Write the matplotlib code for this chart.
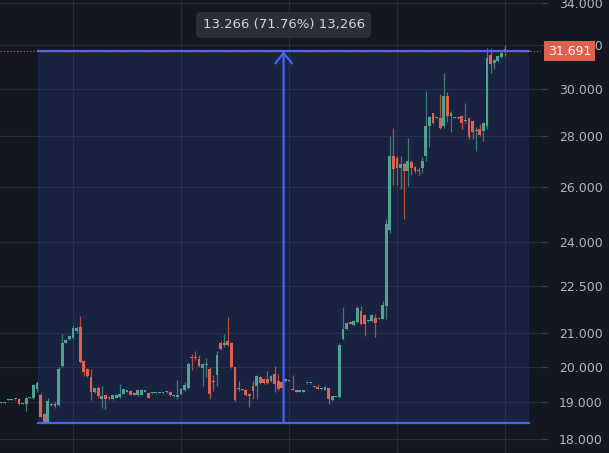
"""
Price chart with a measure box (dark theme, log price scale)
"""
import numpy as np
import matplotlib.pyplot as plt

# ==============================
# Data
# ==============================
opens = [18.96, 18.96, 19.05, 19.06, 19.07, 19.08, 18.94, 18.93, 19.11, 19.10,
         19.37, 19.20, 18.66, 18.46, 18.95, 18.90, 18.92, 20.03, 20.72, 20.83,
         20.85, 21.08, 21.18, 20.17, 19.93, 19.71, 19.28, 19.40, 19.09, 19.18,
         19.15, 19.08, 19.12, 19.14, 19.23, 19.29, 19.30, 19.25, 19.18, 19.20,
         19.29, 19.26, 19.24, 19.24, 19.25, 19.24, 19.27, 19.29, 19.16, 19.15,
         19.22, 19.33, 19.38, 20.29, 20.30, 20.22, 19.97, 20.05, 19.93, 19.60,
         19.75, 20.72, 20.65, 20.78, 20.72, 19.99, 19.38, 19.33, 19.34, 19.22,
         19.45, 19.45, 19.70, 19.65, 19.66, 19.58, 19.79, 19.58, 19.57, 19.58,
         19.59, 19.34, 19.29, 19.29, 19.29, 19.52, 19.52, 19.41, 19.42, 19.35,
         19.33, 19.38, 19.05, 19.14, 19.14, 20.84, 21.13, 21.33, 21.25, 21.35,
         21.70, 21.58, 21.37, 21.38, 21.49, 21.44, 21.45, 21.86, 24.41, 27.21,
         27.13, 26.74, 26.89, 26.62, 26.95, 26.75, 26.63, 26.72, 27.20, 28.43,
         28.94, 28.73, 28.75, 28.40, 29.68, 28.84, 28.76, 28.74, 28.84, 28.61,
         28.73, 28.63, 28.21, 28.30, 28.22, 28.43, 31.50, 31.15, 31.25, 31.42,
         31.80]
highs = [18.98, 18.98, 19.07, 19.07, 19.09, 19.10, 18.96, 19.13, 19.14, 19.50,
         19.60, 19.25, 18.70, 19.10, 18.97, 19.02, 20.00, 20.98, 20.82, 20.95,
         21.27, 21.22, 21.55, 20.20, 19.95, 19.94, 19.40, 19.45, 19.45, 19.20,
         19.17, 19.19, 19.22, 19.50, 19.37, 19.31, 19.32, 19.27, 19.34, 19.35,
         19.31, 19.28, 19.26, 19.26, 19.27, 19.26, 19.30, 19.30, 19.18, 19.62,
         19.38, 19.55, 20.13, 20.37, 20.48, 20.35, 20.10, 20.25, 19.98, 19.75,
         20.48, 20.76, 20.98, 21.51, 20.75, 20.00, 19.60, 19.36, 19.36, 19.24,
         19.58, 19.76, 19.72, 19.67, 19.88, 19.76, 20.03, 19.80, 19.60, 19.67,
         19.62, 19.75, 19.31, 19.31, 19.31, 19.54, 19.54, 19.43, 19.50, 19.37,
         19.44, 19.40, 19.17, 19.16, 20.70, 21.83, 21.36, 21.38, 21.40, 21.84,
         21.85, 21.60, 21.39, 21.60, 21.60, 21.46, 22.02, 24.80, 28.01, 28.35,
         27.20, 27.21, 26.95, 27.93, 27.05, 26.80, 26.75, 27.15, 29.92, 28.85,
         28.98, 28.76, 29.79, 30.71, 29.85, 29.05, 28.80, 28.78, 28.86, 29.40,
         28.78, 28.66, 28.37, 28.50, 28.60, 31.84, 31.84, 31.35, 31.48, 31.66,
         31.98]
lows = [18.95, 18.95, 19.04, 19.05, 19.06, 18.92, 18.93, 18.75, 19.10, 19.08,
        19.28, 18.58, 18.425, 18.44, 18.90, 18.82, 18.90, 20.00, 20.70, 20.80,
        20.82, 21.00, 20.12, 19.72, 19.70, 19.04, 19.26, 19.12, 18.84, 18.80,
        19.05, 19.06, 19.10, 19.10, 19.22, 19.28, 19.18, 19.18, 19.16, 19.18,
        19.28, 19.10, 19.23, 19.23, 19.24, 19.23, 19.26, 19.17, 19.15, 19.08,
        19.20, 19.30, 19.36, 19.90, 20.20, 20.00, 19.45, 19.70, 19.09, 19.30,
        19.45, 20.50, 20.60, 20.62, 19.97, 19.03, 19.30, 19.32, 19.16, 18.86,
        19.08, 19.08, 19.50, 19.50, 19.50, 19.56, 19.28, 19.30, 19.38, 19.56,
        19.58, 19.32, 19.28, 19.28, 19.28, 19.51, 19.51, 19.40, 19.35, 19.34,
        19.32, 18.95, 19.03, 19.13, 19.10, 20.80, 21.10, 21.28, 21.22, 21.33,
        21.25, 20.92, 21.36, 21.36, 20.90, 21.43, 21.43, 21.45, 24.30, 26.09,
        26.09, 25.93, 24.80, 26.04, 26.45, 26.55, 26.45, 26.55, 27.00, 27.54,
        28.50, 28.72, 28.30, 28.35, 28.58, 28.15, 28.74, 28.72, 28.30, 28.55,
        27.90, 27.90, 27.38, 28.00, 27.79, 28.30, 30.70, 30.89, 31.20, 31.38,
        31.45]
closes = [18.97, 18.97, 19.06, 19.06, 19.08, 18.93, 18.95, 19.12, 19.13, 19.47,
          19.52, 18.60, 18.46, 19.03, 18.92, 18.92, 19.94, 20.72, 20.80, 20.92,
          21.17, 21.15, 20.15, 19.86, 19.73, 19.29, 19.38, 19.17, 19.17, 19.08,
          19.10, 19.18, 19.20, 19.23, 19.35, 19.30, 19.20, 19.20, 19.32, 19.33,
          19.30, 19.12, 19.25, 19.25, 19.26, 19.25, 19.28, 19.18, 19.17, 19.20,
          19.35, 19.48, 20.09, 20.26, 20.25, 20.02, 20.07, 20.08, 19.21, 19.57,
          20.34, 20.54, 20.70, 20.66, 19.99, 19.05, 19.36, 19.34, 19.18, 19.16,
          19.30, 19.73, 19.52, 19.52, 19.52, 19.74, 19.51, 19.36, 19.40, 19.65,
          19.60, 19.33, 19.30, 19.30, 19.30, 19.53, 19.53, 19.42, 19.36, 19.36,
          19.42, 19.08, 19.16, 19.15, 20.64, 21.13, 21.33, 21.30, 21.38, 21.80,
          21.29, 21.30, 21.38, 21.58, 21.33, 21.45, 21.89, 24.64, 27.21, 26.70,
          26.74, 26.89, 26.62, 27.01, 26.72, 26.60, 26.61, 26.99, 28.43, 28.80,
          28.55, 28.74, 28.35, 29.70, 28.84, 28.98, 28.77, 28.75, 28.56, 28.62,
          27.95, 28.15, 28.22, 28.06, 28.53, 31.39, 31.10, 31.30, 31.45, 31.62,
          31.691]

price_ticks = [18, 19, 20, 21, 22.5, 24, 26, 28, 30, 32, 34]
tick_labels = ["18.000", "19.000", "20.000", "21.000", "22.500", "24.000",
               "26.000", "28.000", "30.000", "32.000", "34.000"]

# measure tool
measure_low = 18.425
measure_high = 31.691
measure_start, measure_end = 10.3, 146.7
measure_arrow_x = 78.5
measure_text = "13.266 (71.76%) 13,266"
last_price_text = "31.691"

# ==============================
# Colors
# ==============================
bg = "#131722"
grid_color = "#242a38"
up_color = "#4fa393"
down_color = "#dd634f"
up_wick = "#3b7d72"
down_wick = "#b5503f"
blue = "#4763f2"
label_color = "#b2b5be"

# ==============================
# Figure
# ==============================
fig = plt.figure(figsize=(6.09, 4.53), dpi=100, facecolor=bg)
ax = fig.add_axes([0, 0, 541 / 609, 1])
ax.set_facecolor(bg)
ax.set_yscale("log")
ax.set_ylim(17.636, 34.149)
ax.set_xlim(-0.28, 150.0)

o = np.array(opens)
h = np.array(highs)
l = np.array(lows)
c = np.array(closes)
x = np.arange(len(o))
up = c >= o

# grid
ax.set_yticks(price_ticks)
ax.set_yticklabels(tick_labels)
ax.yaxis.set_minor_locator(plt.NullLocator())
ax.set_xticks([20, 50, 80, 110, 140])
ax.set_xticklabels([])
ax.grid(True, color=grid_color, linewidth=0.8, zorder=0)
ax.set_axisbelow(True)
ax.tick_params(axis="x", length=0)
ax.tick_params(axis="y", right=True, left=False, labelright=True, labelleft=False,
               length=4, color="#3a3f4c", pad=9, labelsize=9, labelcolor=label_color)
for s in ax.spines.values():
    s.set_visible(False)

# measure box fill
ax.fill_between([measure_start, measure_end], measure_low, measure_high,
                color="#3a5ee0", alpha=0.16, linewidth=0, zorder=1)

# ==============================
# Candles
# ==============================
min_body = c * 0.0017
body_low = np.minimum(o, c)
body_h = np.maximum(np.abs(c - o), min_body)
wick_cols = np.where(up, up_wick, down_wick)
body_cols = np.where(up, up_color, down_color)
ax.vlines(x, l, h, colors=wick_cols, linewidth=0.9, zorder=2)
ax.bar(x, body_h, bottom=body_low, width=0.8, color=body_cols, linewidth=0, zorder=3)

# ==============================
# Measure lines and label
# ==============================
ax.plot([measure_start, measure_end], [measure_low, measure_low], color=blue, lw=1.6, zorder=4)
ax.plot([measure_start, measure_end], [measure_high, measure_high], color=blue, lw=1.6, zorder=4)
ax.annotate("", xy=(measure_arrow_x, measure_high), xytext=(measure_arrow_x, measure_low),
            arrowprops=dict(arrowstyle="->,head_length=0.75,head_width=0.6", color=blue,
                            lw=1.6, shrinkA=0, shrinkB=0), zorder=4)

# last price dotted line
ax.axhline(measure_high, color=down_color, lw=0.8, ls=(0, (1, 2)), zorder=5)

ax.text(measure_arrow_x, 0.945, measure_text, transform=ax.get_xaxis_transform(),
        ha="center", va="center", fontsize=9.5, color="#d1d4dc", zorder=6,
        bbox=dict(boxstyle="round,pad=0.5,rounding_size=0.4", fc="#2a2e39", ec="none"))

ax.text(1.0 + 7 / 541, measure_high, last_price_text, transform=ax.get_yaxis_transform(),
        ha="left", va="center", fontsize=9, color="white", zorder=10, clip_on=False,
        bbox=dict(boxstyle="square,pad=0.3", fc="#e0604e", ec="none"))

fig.savefig("out.png", dpi=100, facecolor=bg)
